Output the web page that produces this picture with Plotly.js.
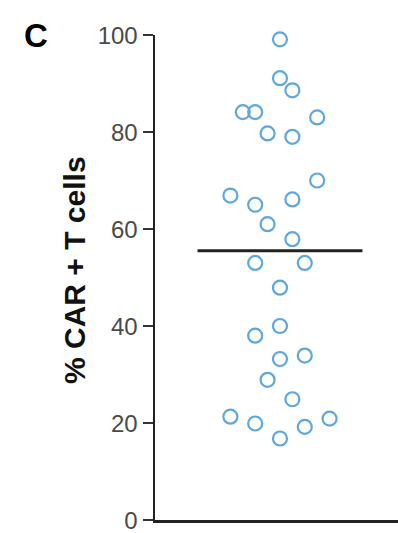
<!DOCTYPE html>
<html>
<head>
<meta charset="utf-8">
<script src="https://cdn.plot.ly/plotly-3.0.1.min.js"></script>
<style>
  html, body { margin: 0; padding: 0; background: #fff; }
  #chart { width: 398px; height: 533px; }
</style>
</head>
<body>
<div id="chart"></div>
<script>
// Data
const panelLabel = "C";
const yAxisTitle = "% CAR + T cells";
const tickValues = [0, 20, 40, 60, 80, 100];
const tickLabels = ["0", "20", "40", "60", "80", "100"];
// jitter column of each donor (horizontal spread around the group centre)
const jitterSlot = [0, 0, 1, -3, -2, 3, -1, 1, 3, -4, -2, 1, -1, 1, -2, 2, 0, 0, -2, 0, 2, -1, 1, -4, -2, 0, 2, 4];
// % CAR+ T cells for each donor
const carTPercent = [99.1, 91.1, 88.6, 84.1, 84.1, 83.0, 79.7, 79.0, 70.0, 66.9, 65.0, 66.1, 61.0, 57.9, 53.0, 53.0, 47.9, 40.0, 38.0, 33.2, 33.9, 28.9, 24.9, 21.3, 19.9, 16.8, 19.2, 20.9];
const meanValue = [55.5];

const lineHalfWidth = 6.65;

const traces = [
  {
    type: "scatter",
    mode: "markers",
    x: jitterSlot,
    y: carTPercent,
    marker: {
      symbol: "circle-open",
      size: 14,
      color: "#5ea7dc",
      line: { width: 2.2, color: "#5ea7dc" }
    },
    hoverinfo: "y",
    showlegend: false,
    cliponaxis: false
  },
  {
    type: "scatter",
    mode: "lines",
    x: [-lineHalfWidth, lineHalfWidth],
    y: [meanValue[0], meanValue[0]],
    line: { color: "#222", width: 3 },
    hoverinfo: "y",
    showlegend: false
  }
];

const layout = {
  width: 398,
  height: 533,
  margin: { l: 155, r: 0, t: 35, b: 13 },
  paper_bgcolor: "#fff",
  plot_bgcolor: "#fff",
  font: { family: "Liberation Sans, Arial, sans-serif", color: "#444" },
  xaxis: {
    range: [-10.08, 9.52],
    showgrid: false,
    zeroline: false,
    showticklabels: false,
    ticks: "",
    showline: true,
    linecolor: "#222",
    linewidth: 3,
    fixedrange: true
  },
  yaxis: {
    range: [0, 100],
    tickvals: tickValues,
    ticktext: tickLabels,
    ticks: "outside",
    ticklen: 10,
    tickwidth: 2.5,
    tickcolor: "#333",
    ticklabeloverflow: "allow",
    ticklabelshift: 1,
    tickfont: { size: 24, color: "#4a4a4a", family: "Liberation Sans, Arial, sans-serif" },
    showgrid: false,
    zeroline: false,
    showline: true,
    linecolor: "#222",
    linewidth: 2.5,
    automargin: false,
    fixedrange: true
  },
  annotations: [
    {
      text: panelLabel,
      xref: "paper", yref: "paper",
      x: (36 - 155) / 242, y: 1,
      xanchor: "center", yanchor: "middle",
      showarrow: false,
      font: { size: 33, color: "#000", family: "Liberation Sans, Arial, sans-serif", weight: "bold" }
    },
    {
      text: yAxisTitle,
      xref: "paper", yref: "paper",
      x: (74 - 155) / 243, y: (520 - 270) / 485,
      xanchor: "center", yanchor: "middle",
      textangle: -90,
      showarrow: false,
      font: { size: 30, color: "#111", family: "Liberation Sans, Arial, sans-serif", weight: "bold" }
    }
  ]
};

Plotly.newPlot("chart", traces, layout, { displayModeBar: false, staticPlot: true });
</script>
</body>
</html>
